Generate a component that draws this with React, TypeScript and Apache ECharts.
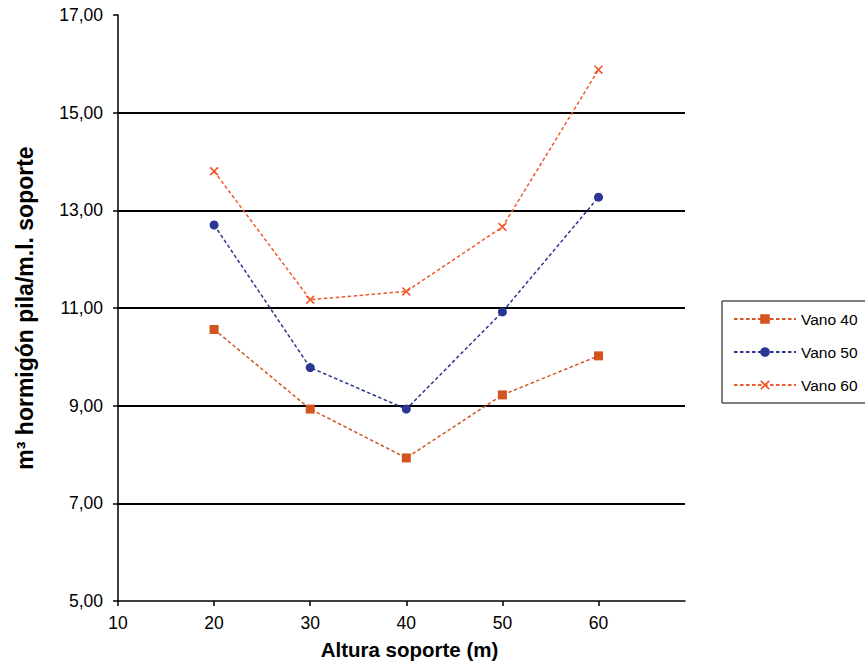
import React, { useEffect, useRef } from "react";
import * as echarts from "echarts";

const xValues = [20, 30, 40, 50, 60];
const vano40 = [10.56, 8.93, 7.93, 9.22, 10.02];
const vano50 = [12.7, 9.78, 8.93, 10.92, 13.27];
const vano60 = [13.8, 11.17, 11.34, 12.66, 15.88];
const seriesNames = ["Vano 40", "Vano 50", "Vano 60"];
const xTickValues = [10, 20, 30, 40, 50, 60];

const FONT = "'Liberation Sans', Arial, Helvetica, sans-serif";
const crossPath =
  "path://M1.3,0L5,3.7L8.7,0L10,1.3L6.3,5L10,8.7L8.7,10L5,6.3L1.3,10L0,8.7L3.7,5L0,1.3Z";

export default function App() {
  const ref = useRef<HTMLDivElement>(null);
  useEffect(() => {
    if (!ref.current) return;
    const chart = echarts.init(ref.current, undefined, { renderer: "svg" });
    const pair = (ys: number[]) => xValues.map((x, i) => [x, ys[i]]);
    const mk = (name: string, data: number[], color: string, symbol: string, size: number) => ({
      name,
      type: "line",
      data: pair(data),
      symbol,
      symbolSize: size,
      showSymbol: true,
      lineStyle: { color, width: 1.5, type: [3.5, 2.5] },
      itemStyle: { color },
    });
    chart.setOption({
      animation: false,
      backgroundColor: "#ffffff",
      textStyle: { fontFamily: FONT },
      grid: { left: 118, right: 180, top: 15, bottom: 67, containLabel: false },
      legend: {
        orient: "vertical",
        left: 722,
        top: 301,
        padding: [10, 20, 10, 11],
        itemWidth: 62,
        itemHeight: 12,
        itemGap: 17,
        borderColor: "#000",
        borderWidth: 1,
        textStyle: { fontFamily: FONT, fontSize: 15.5, color: "#000" },
        data: seriesNames,
      },
      xAxis: {
        type: "value",
        min: 10,
        max: 69,
        interval: 10,
        name: "Altura soporte (m)",
        nameLocation: "middle",
        nameGap: 38,
        nameTextStyle: {
          fontFamily: FONT,
          fontSize: 20.5,
          fontWeight: "bold",
          color: "#000",
          padding: [0, 0, 0, 16],
        },
        axisLine: { show: true, lineStyle: { color: "#000", width: 1.5 } },
        axisTick: { show: true, length: 5, customValues: xTickValues, lineStyle: { color: "#000", width: 1.5 } },
        axisLabel: { customValues: xTickValues, fontFamily: FONT, fontSize: 17.5, color: "#000", margin: 13 },
        splitLine: { show: false },
      },
      yAxis: {
        type: "value",
        min: 5,
        max: 17,
        interval: 2,
        name: "m³ hormigón pila/m.l. soporte",
        nameLocation: "middle",
        nameGap: 82,
        nameTextStyle: { fontFamily: FONT, fontSize: 23, fontWeight: "bold", color: "#000" },
        axisLine: { show: true, lineStyle: { color: "#000", width: 1.5 } },
        axisTick: { show: true, length: 5, lineStyle: { color: "#000", width: 1.5 } },
        axisLabel: {
          fontFamily: FONT,
          fontSize: 17.5,
          color: "#000",
          margin: 15,
          formatter: (v: number) => v.toFixed(2).replace(".", ","),
        },
        splitLine: { show: true, showMinLine: false, showMaxLine: false, lineStyle: { color: "#000", width: 1.8 } },
      },
      series: [
        mk("Vano 40", vano40, "#D4541F", "rect", 9),
        mk("Vano 50", vano50, "#2B3593", "circle", 9),
        mk("Vano 60", vano60, "#F0592A", crossPath, 9),
      ],
    });
    return () => chart.dispose();
  }, []);
  return <div ref={ref} style={{ width: 865, height: 668, position: "absolute", left: 0, top: 0 }} />;
}
